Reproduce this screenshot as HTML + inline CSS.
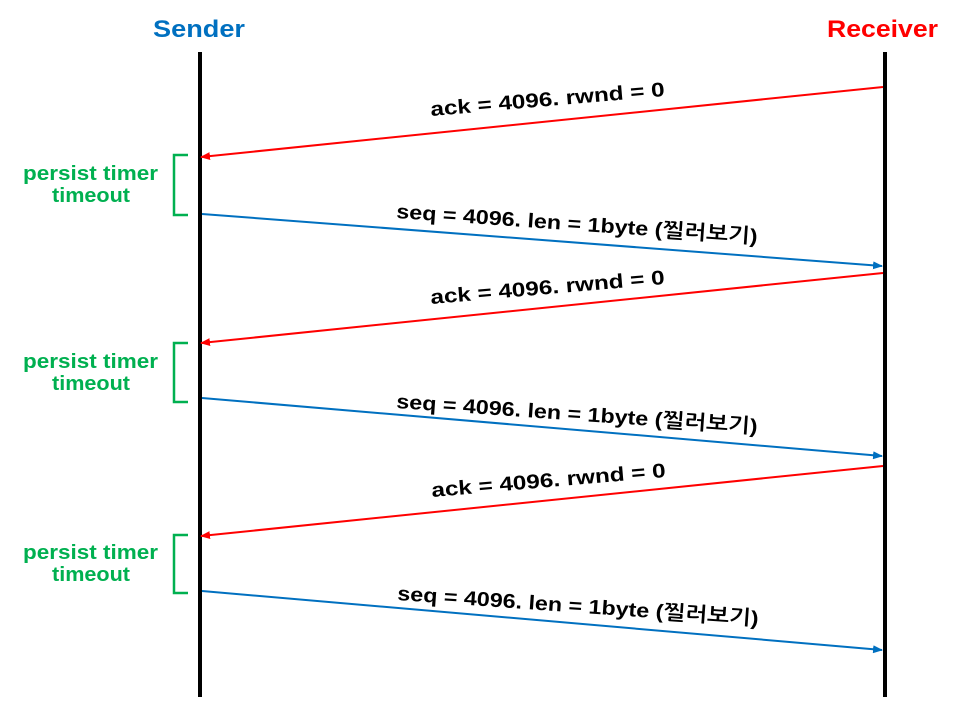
<!DOCTYPE html>
<html><head><meta charset="utf-8"><style>
html,body{margin:0;padding:0;background:#fff}
svg{display:block}
text{font-family:"Liberation Sans","NanumGothic",sans-serif;font-weight:bold}
</style></head><body>
<svg width="955" height="723" viewBox="0 0 955 723" xmlns="http://www.w3.org/2000/svg">
<defs>
<marker id="r" markerWidth="10" markerHeight="8" refX="9" refY="4" orient="auto" markerUnits="userSpaceOnUse"><path d="M0,0 L10,4 L0,8 z" fill="#ff0000"/></marker>
<marker id="b" markerWidth="10" markerHeight="8" refX="9" refY="4" orient="auto" markerUnits="userSpaceOnUse"><path d="M0,0 L10,4 L0,8 z" fill="#0070c0"/></marker>
</defs>
<text x="153" y="37" font-size="24" fill="#0070c0" textLength="92" lengthAdjust="spacingAndGlyphs">Sender</text>
<text x="827" y="37" font-size="24" fill="#ff0000" textLength="111" lengthAdjust="spacingAndGlyphs">Receiver</text>
<rect x="198" y="52" width="4" height="645" fill="#000"/>
<rect x="883" y="52" width="4" height="645" fill="#000"/>
<g stroke="#00b050" stroke-width="2.5" fill="none">
<path d="M188,155 H174 V215 H188"/>
<path d="M188,343 H174 V402 H188"/>
<path d="M188,535 H174 V593 H188"/>
</g>
<g fill="#00b050" font-size="20">
<text x="23" y="180" textLength="135" lengthAdjust="spacingAndGlyphs">persist timer</text>
<text x="52" y="202" textLength="78" lengthAdjust="spacingAndGlyphs">timeout</text>
<text x="23" y="368" textLength="135" lengthAdjust="spacingAndGlyphs">persist timer</text>
<text x="52" y="390" textLength="78" lengthAdjust="spacingAndGlyphs">timeout</text>
<text x="23" y="559" textLength="135" lengthAdjust="spacingAndGlyphs">persist timer</text>
<text x="52" y="581" textLength="78" lengthAdjust="spacingAndGlyphs">timeout</text>
</g>
<g stroke-width="2">
<line x1="883" y1="87" x2="201" y2="157" stroke="#ff0000" marker-end="url(#r)"/>
<line x1="202" y1="214" x2="882" y2="266" stroke="#0070c0" marker-end="url(#b)"/>
<line x1="883" y1="273" x2="201" y2="343" stroke="#ff0000" marker-end="url(#r)"/>
<line x1="202" y1="398" x2="882" y2="456" stroke="#0070c0" marker-end="url(#b)"/>
<line x1="883" y1="466" x2="201" y2="536" stroke="#ff0000" marker-end="url(#r)"/>
<line x1="202" y1="591" x2="882" y2="650" stroke="#0070c0" marker-end="url(#b)"/>
</g>
<g fill="#000" font-size="20">
<text transform="translate(431,116) rotate(-4.9)" textLength="235" lengthAdjust="spacingAndGlyphs">ack = 4096. rwnd = 0</text>
<text transform="translate(396,218) rotate(4)" textLength="362" lengthAdjust="spacingAndGlyphs">seq = 4096. len = 1byte (찔러보기)</text>
<text transform="translate(431,304) rotate(-4.9)" textLength="235" lengthAdjust="spacingAndGlyphs">ack = 4096. rwnd = 0</text>
<text transform="translate(396,408) rotate(4)" textLength="362" lengthAdjust="spacingAndGlyphs">seq = 4096. len = 1byte (찔러보기)</text>
<text transform="translate(432,497) rotate(-4.9)" textLength="235" lengthAdjust="spacingAndGlyphs">ack = 4096. rwnd = 0</text>
<text transform="translate(397,600) rotate(4)" textLength="362" lengthAdjust="spacingAndGlyphs">seq = 4096. len = 1byte (찔러보기)</text>
</g>
</svg>
</body></html>
